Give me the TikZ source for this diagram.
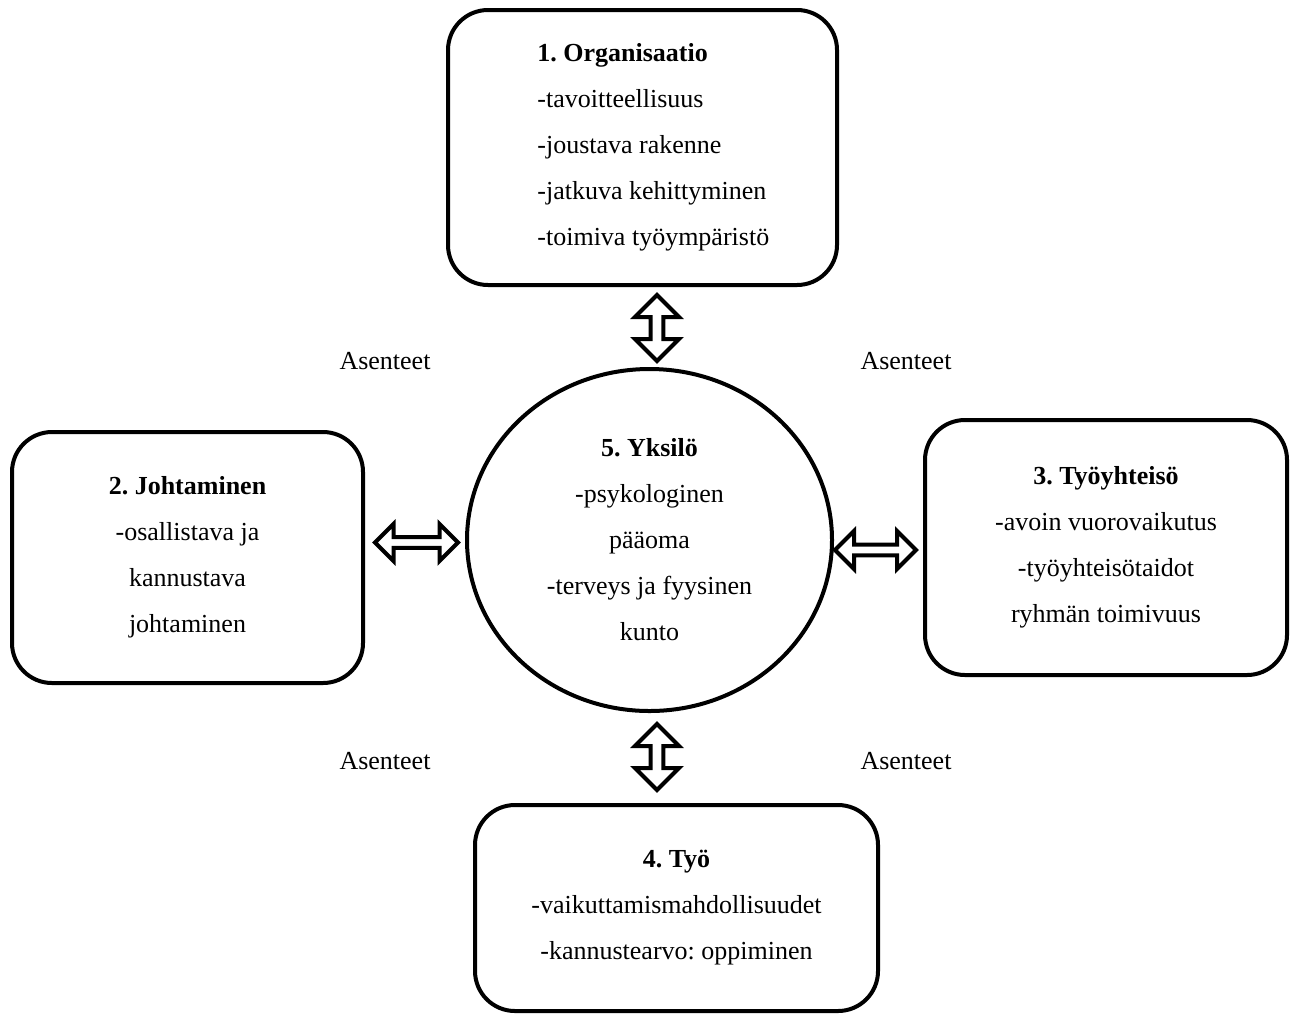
\documentclass[tikz,border=0pt]{standalone}
\usepackage{fontspec}
\setmainfont{Liberation Serif}
\frenchspacing
\usetikzlibrary{shapes.geometric,shapes.arrows}

\tikzset{
  lohko/.style={draw, line width=2pt, rounded corners=20pt, align=center,
    font=\fontsize{13}{23}\selectfont},
  nuoli/.style={draw, line width=2pt, fill=white, double arrow, inner sep=0pt,
    double arrow head extend=2.5pt},
  asenne/.style={font=\fontsize{13}{16}\selectfont}
}

\begin{document}
\begin{tikzpicture}[x=0.5pt, y=-0.5pt]
  \useasboundingbox (0,0) rectangle (1293,1013);

  %–– Lohkot ––
  \node[lohko, minimum width=194.5pt, minimum height=137.5pt] (org) at (642.5,147.5) {};
  \node[align=left, anchor=west, inner sep=0pt, font=\fontsize{13}{23}\selectfont] (orgt) at (537,147.5)
    {\textbf{1. Organisaatio}\\-tavoitteellisuus\\-joustava rakenne\\-jatkuva kehittyminen\\-toimiva työympäristö};
  \node[lohko, minimum width=175.5pt, minimum height=125.5pt] (joh) at (187.5,557.5)
    {\textbf{2. Johtaminen}\\-osallistava ja\\kannustava\\johtaminen};
  \node[lohko, minimum width=181pt, minimum height=127.5pt] (tyy) at (1106,547.5)
    {\textbf{3. Työyhteisö}\\-avoin vuorovaikutus\\-työyhteisötaidot\\ryhmän toimivuus};
  \node[lohko, minimum width=201.5pt, minimum height=103pt] (tyo) at (676.5,908)
    {\textbf{4. Työ}\\-vaikuttamismahdollisuudet\\-kannustearvo: oppiminen};

  %–– Yksilö ––
  \node[draw, ellipse, line width=2pt, align=center, inner sep=0pt,
    minimum width=182.5pt, minimum height=171pt, font=\fontsize{13}{23}\selectfont] (yks) at (649.5,540)
    {\textbf{5. Yksilö}\\-psykologinen\\pääoma\\-terveys ja fyysinen\\kunto};

  %–– Nuolet ––
  \node[nuoli, rotate=90, minimum width=22pt, minimum height=33pt] (n1) at (657,328) {};
  \node[nuoli, minimum width=18.5pt, minimum height=41.5pt] (n2) at (416.5,542.5) {};
  \node[nuoli, minimum width=19pt, minimum height=40.5pt] (n3) at (875.5,550) {};
  \node[nuoli, rotate=90, minimum width=22pt, minimum height=33pt] (n4) at (657,757) {};

  %–– Asenteet ––
  \node[asenne] (as1) at (385,361) {Asenteet};
  \node[asenne] (as2) at (906,361) {Asenteet};
  \node[asenne] (as3) at (385,761) {Asenteet};
  \node[asenne] (as4) at (906,761) {Asenteet};
\end{tikzpicture}
\end{document}
